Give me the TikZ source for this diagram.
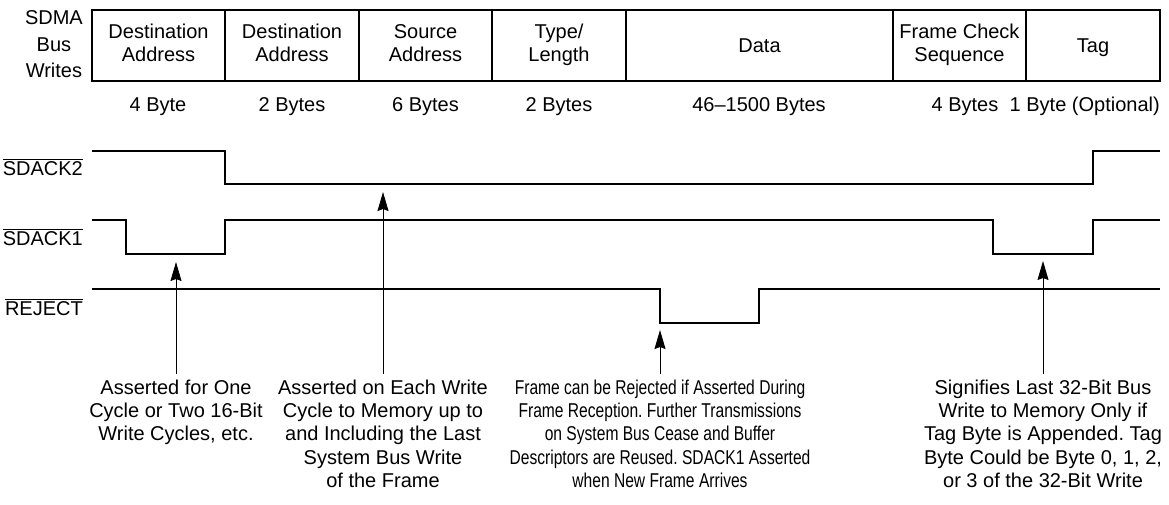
\documentclass[tikz,border=0pt]{standalone}
\usepackage{fontspec}
\setmainfont{Liberation Sans}
\newfontfamily\narrowfont[FakeStretch=0.78]{Liberation Sans}
\usetikzlibrary{arrows.meta}
\frenchspacing
\begin{document}
\begin{tikzpicture}[x=1pt,y=-1pt,
  font=\fontsize{20}{23.3}\selectfont\frenchspacing,
  txt/.style={inner sep=0pt, align=center},
  hdr/.style={txt, anchor=north},
  hdrone/.style={txt, anchor=base},
  bytes/.style={inner sep=0pt, anchor=base},
  siglbl/.style={inner sep=0pt, anchor=base east},
  note/.style={txt, anchor=north},
  sig/.style={line width=1.9pt, line join=miter},
  ptr/.style={line width=0.9pt, shorten <=6pt, -{Stealth[length=19pt,width=11pt,inset=2pt]}}
]
\useasboundingbox (0,0) rectangle (1169,504);

% frame structure
\draw[line width=1.8pt] (92,10) rectangle (1160,81);
\foreach \x in {225,359,492,626,893,1026}
  \draw[line width=1.2pt] (\x,10) -- (\x,81);

\node[txt, anchor=north east, font=\fontsize{20}{26.5}\selectfont] (sdma) at (83,10.5) {SDMA\\Bus\\Writes};

\node[hdr] (f1) at (158.5,24) {Destination\\Address};
\node[hdr] (f2) at (292,24) {Destination\\Address};
\node[hdr] (f3) at (425.5,24) {Source\\Address};
\node[hdr] (f4) at (559,24) {Type/\\Length};
\node[hdrone] (f5) at (759.5,52.5) {Data};
\node[hdr] (f6) at (959.5,24) {Frame Check\\Sequence};
\node[hdrone] (f7) at (1093,52.5) {Tag};

% byte counts
\node[bytes] (b1) at (158,111) {4 Byte};
\node[bytes] (b2) at (292,111) {2 Bytes};
\node[bytes] (b3) at (425.5,111) {6 Bytes};
\node[bytes] (b4) at (559,111) {2 Bytes};
\node[bytes] (b5) at (759,111) {46--1500 Bytes};
\node[bytes] (b6) at (965,111) {4 Bytes};
\node[bytes, anchor=base east] (b7) at (1160,111) {1 Byte (Optional)};

% signal labels
\node[siglbl] (l2) at (83,175) {$\overline{\mbox{SDACK2}}$};
\node[siglbl] (l1) at (83,245) {$\overline{\mbox{SDACK1}}$};
\node[siglbl] (lr) at (83,315) {$\overline{\mbox{REJECT}}$};

% waveforms
\draw[sig] (92,151) -- (225,151) -- (225,184) -- (1093,184) -- (1093,151) -- (1160,151);
\draw[sig] (92,220) -- (126,220) -- (126,254) -- (225,254) -- (225,220) -- (993,220)
  -- (993,254) -- (1093,254) -- (1093,220) -- (1160,220);
\draw[sig] (92,289) -- (660,289) -- (660,323) -- (759,323) -- (759,289) -- (1160,289);

% arrow targets
\coordinate (t1) at (176,262);
\coordinate (t2) at (383,192);
\coordinate (t3) at (660,330);
\coordinate (t4) at (1043,261);

% notes
\node[note] (n1) at (176,379.5) {Asserted for One\\Cycle or Two 16-Bit\\Write Cycles, etc.};
\node[note] (n2) at (383,379.5) {Asserted on Each Write\\Cycle to Memory up to\\and Including the Last\\System Bus Write\\of the Frame};
\node[note, font=\narrowfont\fontsize{20}{23.3}\selectfont\frenchspacing] (n3) at (660,379.5) {Frame can be Rejected if Asserted During\\Frame Reception. Further Transmissions\\on System Bus Cease and Buffer\\Descriptors are Reused. SDACK1 Asserted\\when New Frame Arrives};
\node[note] (n4) at (1043,379.5) {Signifies Last 32-Bit Bus\\Write to Memory Only if\\Tag Byte is Appended. Tag\\Byte Could be Byte 0, 1, 2,\\or 3 of the 32-Bit Write};

\draw[ptr] (n1.north) -- (t1);
\draw[ptr] (n2.north) -- (t2);
\draw[ptr] (n3.north) -- (t3);
\draw[ptr] (n4.north) -- (t4);
\end{tikzpicture}
\end{document}
